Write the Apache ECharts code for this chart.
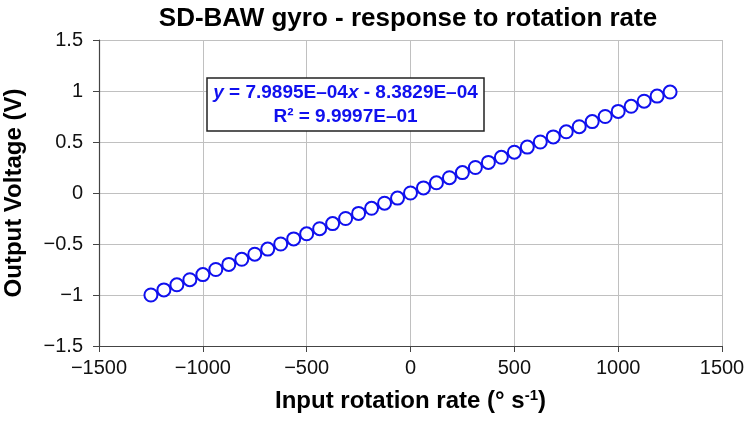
<!DOCTYPE html>
<html>
<head>
<meta charset="utf-8">
<script src="https://cdn.jsdelivr.net/npm/echarts@6/dist/echarts.min.js"></script>
<style>
  html, body { margin: 0; padding: 0; background: #fff; }
  #chart { width: 750px; height: 429px; }
</style>
</head>
<body>
<div id="chart"></div>
<script>
// input rotation rate (deg/s)
var rates = [-1250, -1187.5, -1125, -1062.5, -1000, -937.5, -875, -812.5, -750, -687.5,
  -625, -562.5, -500, -437.5, -375, -312.5, -250, -187.5, -125, -62.5, 0,
  62.5, 125, 187.5, 250, 312.5, 375, 437.5, 500, 562.5, 625,
  687.5, 750, 812.5, 875, 937.5, 1000, 1062.5, 1125, 1187.5, 1250]
// output voltage (V)
var volts = [-1.00, -0.95, -0.90, -0.85, -0.80, -0.75, -0.70, -0.65, -0.60, -0.55,
  -0.50, -0.45, -0.40, -0.35, -0.30, -0.25, -0.20, -0.15, -0.10, -0.05, 0.00,
  0.05, 0.10, 0.15, 0.20, 0.25, 0.30, 0.35, 0.40, 0.45, 0.50,
  0.55, 0.60, 0.65, 0.70, 0.75, 0.80, 0.85, 0.90, 0.95, 0.99]

var fitLine1 = ['y', ' = 7.9895E\u201304', 'x', ' - 8.3829E\u201304']
var fitLine2 = 'R\u00b2 = 9.9997E\u201301'

var font = 'Liberation Sans, Arial, sans-serif'
var blue = '#1010ee'
var minus = function (v) { return String(v).replace('-', '\u2212') }

var chart = echarts.init(document.getElementById('chart'))
chart.setOption({
  animation: false,
  title: {
    text: 'SD-BAW gyro - response to rotation rate',
    left: 403, top: 1, textAlign: 'center',
    textStyle: { fontFamily: font, fontSize: 26, fontWeight: 'bold', color: '#000' }
  },
  grid: { left: 99, right: 28, top: 40, bottom: 83, containLabel: false, outerBoundsMode: 'none' },
  xAxis: {
    type: 'value', min: -1500, max: 1500, interval: 500,
    name: 'Input rotation rate (\u00b0 s{sup|-1})',
    nameLocation: 'middle', nameGap: 42,
    nameTextStyle: {
      fontFamily: font, fontSize: 24, fontWeight: 'bold', color: '#000',
      rich: { sup: { fontFamily: font, fontSize: 15, fontWeight: 'bold', verticalAlign: 'top', padding: [0, 0, 12, 0] } }
    },
    axisLine: { onZero: false, lineStyle: { color: '#444', width: 1.2 } },
    axisTick: { length: 6, lineStyle: { color: '#444' } },
    axisLabel: { formatter: minus, fontFamily: font, fontSize: 20, color: '#111', margin: 12 },
    splitLine: { lineStyle: { color: '#c0c0c0', width: 1 } }
  },
  yAxis: {
    type: 'value', min: -1.5, max: 1.5, interval: 0.5,
    name: 'Output Voltage (V)',
    nameLocation: 'middle', nameGap: 73,
    nameTextStyle: { fontFamily: font, fontSize: 24, fontWeight: 'bold', color: '#000' },
    axisLine: { show: true, onZero: false, lineStyle: { color: '#444', width: 1.2 } },
    axisTick: { show: true, length: 6, lineStyle: { color: '#444' } },
    axisLabel: { formatter: minus, fontFamily: font, fontSize: 20, color: '#111', margin: 16 },
    splitLine: { lineStyle: { color: '#c0c0c0', width: 1 } }
  },
  series: [{
    type: 'line',
    data: rates.map(function (r, i) { return [r, volts[i]] }),
    symbol: 'emptyCircle',
    symbolSize: 13,
    lineStyle: { color: blue, width: 3 },
    itemStyle: { color: blue, borderColor: blue, borderWidth: 3.2 }
  }],
  graphic: [{
    type: 'rect', z: 10,
    shape: { x: 207, y: 78, width: 277, height: 53 },
    style: { fill: '#fff', stroke: '#222', lineWidth: 1.5 }
  }, {
    type: 'text', z: 11,
    x: 345.5, y: 81,
    style: {
      text: '{i|' + fitLine1[0] + '}{b|' + fitLine1[1] + '}{i|' + fitLine1[2] + '}{b|' + fitLine1[3] + '}\n{b|' + fitLine2 + '}',
      align: 'center', verticalAlign: 'top',
      rich: {
        b: { fontFamily: font, fontSize: 19, fontWeight: 'bold', fill: blue, lineHeight: 24, align: 'center' },
        i: { fontFamily: font, fontSize: 19, fontWeight: 'bold', fontStyle: 'italic', fill: blue, lineHeight: 24, align: 'center' }
      }
    }
  }]
})
</script>
</body>
</html>
